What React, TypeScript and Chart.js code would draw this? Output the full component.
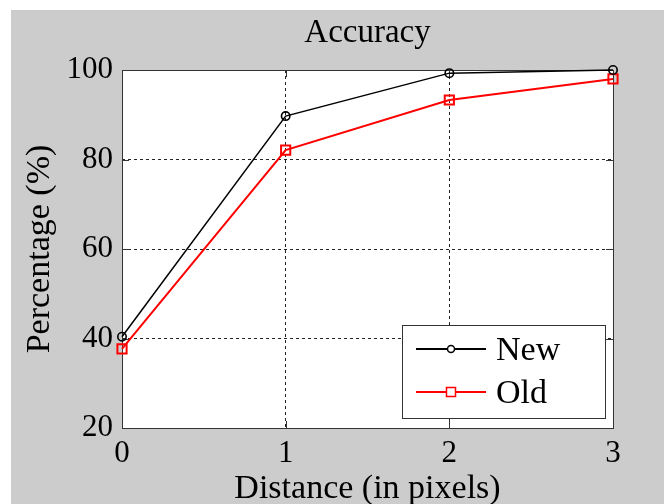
import { useEffect, useRef } from "react";
import { Chart, registerables } from "chart.js";

Chart.register(...registerables);

const distances = ["0", "1", "2", "3"];
const newValues = [40.4, 89.7, 99.3, 100];
const oldValues = [37.7, 82.1, 93.3, 98];
const seriesNames = ["New", "Old"];
const titleText = "Accuracy";
const xTitle = "Distance (in pixels)";
const yTitle = "Percentage (%)";

const FONT = "'Liberation Serif', 'Times New Roman', serif";

const bgPlugin = {
  id: "bgPlugin",
  beforeDraw(chart: any) {
    const { ctx, width, height, chartArea } = chart;
    ctx.save();
    ctx.fillStyle = "#ffffff";
    ctx.fillRect(0, 0, width, height);
    ctx.fillStyle = "#cccccc";
    ctx.fillRect(11, 10, width - 11, height - 10);
    ctx.fillStyle = "#ffffff";
    ctx.fillRect(chartArea.left, chartArea.top, chartArea.right - chartArea.left, chartArea.bottom - chartArea.top);
    ctx.restore();
  },
};

const titlePlugin = {
  id: "titlePlugin",
  afterDraw(chart: any) {
    const { ctx, chartArea } = chart;
    ctx.save();
    ctx.fillStyle = "#000000";
    ctx.font = `33px ${FONT}`;
    ctx.textAlign = "center";
    ctx.textBaseline = "alphabetic";
    ctx.fillText(titleText, (chartArea.left + chartArea.right) / 2, chartArea.top - 28);
    ctx.restore();
  },
};

const framePlugin = {
  id: "framePlugin",
  beforeDatasetsDraw(chart: any) {
    const { ctx, chartArea } = chart;
    const { left, right, top, bottom } = chartArea;
    const xs = chart.scales.x;
    const ys = chart.scales.y;
    const tl = 7;
    ctx.save();
    ctx.strokeStyle = "#333333";
    ctx.lineWidth = 1;
    ctx.setLineDash([]);
    ctx.beginPath();
    xs.ticks.forEach((_t: any, i: number) => {
      const px = Math.round(xs.getPixelForTick(i)) + 0.5;
      ctx.moveTo(px, bottom);
      ctx.lineTo(px, bottom - tl);
      ctx.moveTo(px, top);
      ctx.lineTo(px, top + tl);
    });
    ys.ticks.forEach((_t: any, i: number) => {
      const py = Math.round(ys.getPixelForTick(i)) + 0.5;
      ctx.moveTo(left, py);
      ctx.lineTo(left + tl, py);
      ctx.moveTo(right, py);
      ctx.lineTo(right - tl, py);
    });
    ctx.stroke();
    ctx.strokeRect(Math.round(left) + 0.5, Math.round(top) + 0.5, Math.round(right - left), Math.round(bottom - top));
    ctx.restore();
  },
};

const legendPlugin = {
  id: "legendPlugin",
  afterDraw(chart: any) {
    const { ctx, chartArea } = chart;
    const boxW = 203;
    const boxH = 93;
    const bx = chartArea.right - 8 - boxW;
    const by = chartArea.bottom - 10 - boxH;
    ctx.save();
    ctx.fillStyle = "#ffffff";
    ctx.fillRect(bx, by, boxW, boxH);
    ctx.strokeStyle = "#333333";
    ctx.lineWidth = 1;
    ctx.strokeRect(Math.round(bx) + 0.5, Math.round(by) + 0.5, boxW, boxH);
    chart.data.datasets.forEach((ds: any, i: number) => {
      const cy = by + 24 + i * 43;
      const x0 = bx + 14;
      const x1 = bx + 84;
      const cx = (x0 + x1) / 2;
      ctx.strokeStyle = ds.borderColor;
      ctx.lineWidth = 2;
      ctx.beginPath();
      ctx.moveTo(x0, cy);
      ctx.lineTo(x1, cy);
      ctx.stroke();
      ctx.lineWidth = 1.5;
      ctx.fillStyle = "#ffffff";
      if (ds.pointStyle === "rect") {
        ctx.fillRect(cx - 4.5, cy - 4.5, 9, 9);
        ctx.strokeRect(cx - 4.5, cy - 4.5, 9, 9);
      } else {
        ctx.beginPath();
        ctx.arc(cx, cy, 3.5, 0, Math.PI * 2);
        ctx.fill();
        ctx.stroke();
      }
      ctx.fillStyle = "#000000";
      ctx.font = `34px ${FONT}`;
      ctx.textAlign = "left";
      ctx.textBaseline = "middle";
      ctx.fillText(ds.label, bx + 94, cy + 2);
    });
    ctx.restore();
  },
};

export default function App() {
  const ref = useRef<HTMLCanvasElement | null>(null);

  useEffect(() => {
    document.body.style.margin = "0";
    const canvas = ref.current;
    if (!canvas) return;
    const chart = new Chart(canvas, {
      type: "line",
      data: {
        labels: distances,
        datasets: [
          {
            label: seriesNames[0],
            data: newValues,
            borderColor: "#000000",
            borderWidth: 1.5,
            pointStyle: "circle",
            pointRadius: 4.2,
            pointBorderWidth: 1.6,
            pointBackgroundColor: "rgba(0,0,0,0)",
            pointBorderColor: "#000000",
            tension: 0,
            clip: false as any,
          },
          {
            label: seriesNames[1],
            data: oldValues,
            borderColor: "#ff0000",
            borderWidth: 2,
            pointStyle: "rect",
            pointRadius: 6.5,
            pointBorderWidth: 2,
            pointBackgroundColor: "rgba(0,0,0,0)",
            pointBorderColor: "#ff0000",
            tension: 0,
            clip: false as any,
          },
        ],
      },
      options: {
        animation: false,
        responsive: false,
        maintainAspectRatio: false,
        layout: { padding: { left: 0, right: 51, top: 70, bottom: 0 } },
        plugins: {
          legend: { display: false },
          tooltip: { enabled: false },
          title: { display: false },
        },
        scales: {
          x: {
            type: "category",
            offset: false,
            grid: {
              display: true,
              drawTicks: false,
              color: "#222222",
              lineWidth: 1,
            },
            border: { display: false, dash: [3, 3] },
            ticks: {
              color: "#000000",
              font: { family: FONT, size: 31 },
              padding: 7,
              maxRotation: 0,
              autoSkip: false,
            },
            title: {
              display: true,
              text: xTitle,
              color: "#000000",
              font: { family: FONT, size: 34, lineHeight: 0.9 },
              padding: { top: 0, bottom: 0 },
            },
            afterFit(scale: any) {
              scale.height = 76;
            },
          },
          y: {
            type: "linear",
            min: 20,
            max: 100,
            grid: {
              display: true,
              drawTicks: false,
              color: "#222222",
              lineWidth: 1,
            },
            border: { display: false, dash: [3, 3] },
            ticks: {
              stepSize: 20,
              color: "#000000",
              font: { family: FONT, size: 31 },
              padding: 9,
            },
            title: {
              display: true,
              text: yTitle,
              color: "#000000",
              font: { family: FONT, size: 34, lineHeight: 1 },
              padding: { top: 23, bottom: 0 },
            },
            afterFit(scale: any) {
              scale.width = 122;
            },
          },
        },
      },
      plugins: [bgPlugin, framePlugin, legendPlugin, titlePlugin],
    });
    return () => chart.destroy();
  }, []);

  return (
    <div style={{ position: "absolute", left: 0, top: 0, width: 664, height: 504 }}>
      <canvas ref={ref} width={664} height={504} style={{ display: "block", width: 664, height: 504 }} />
    </div>
  );
}
